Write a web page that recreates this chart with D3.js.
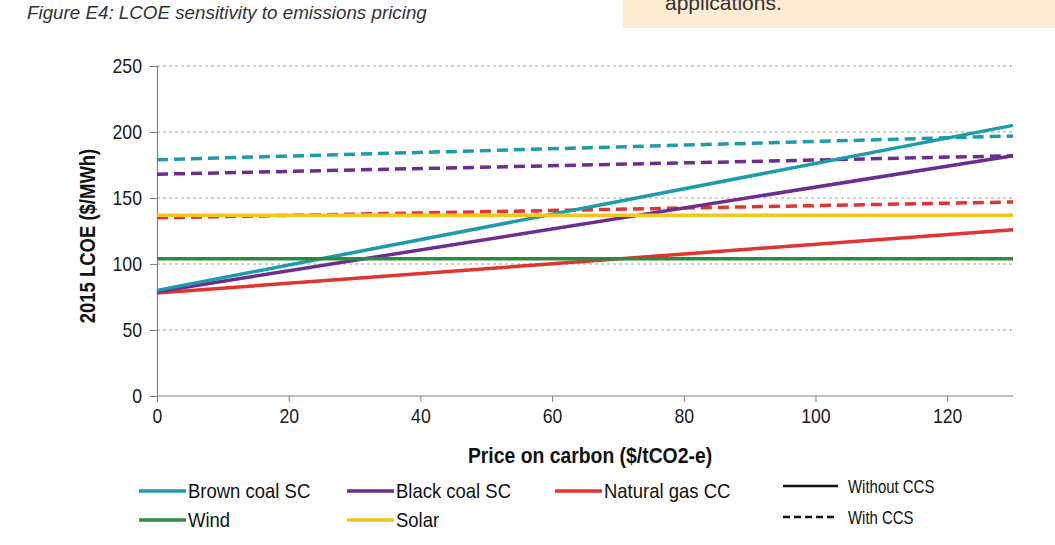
<!DOCTYPE html>
<html><head><meta charset="utf-8">
<script src="https://cdn.jsdelivr.net/npm/d3@7"></script>
<style>
body{margin:0;background:#fff;}
svg{display:block;}
</style></head>
<body>
<svg id="chart" width="1055" height="545"></svg>
<script>
// ---- data ----
const carbonPrices = [0, 130];
const seriesNames = ["Brown coal SC", "Black coal SC", "Natural gas CC", "Wind", "Solar"];
const seriesColors = ["#1c9bab", "#6b2d8f", "#e2332f", "#2b8b3c", "#f6c51c"];
const withoutCCS = [
  [80, 205],   // Brown coal SC
  [79, 182],   // Black coal SC
  [78, 126],   // Natural gas CC
  [104, 104],  // Wind
  [137, 137]   // Solar
];
const withCCS = [
  [179, 197],  // Brown coal SC + CCS
  [168, 182],  // Black coal SC + CCS
  [135, 147]   // Natural gas CC + CCS
];
const xTicks = [0, 20, 40, 60, 80, 100, 120];
const yTicks = [0, 50, 100, 150, 200, 250];
const titleText = "Figure E4: LCOE sensitivity to emissions pricing";
const xLabel = "Price on carbon ($/tCO2-e)";
const yLabel = "2015 LCOE ($/MWh)";

// ---- layout ----
const svg = d3.select("#chart");
const m = {left:157, right:1013, top:66, bottom:396};
const x = d3.scaleLinear().domain([0,130]).range([m.left, m.right]);
const y = d3.scaleLinear().domain([0,250]).range([m.bottom, m.top]);
const sans = "'Liberation Sans',Arial,sans-serif";

function condense(sel, f){
  sel.each(function(){
    const w = this.getComputedTextLength();
    d3.select(this).attr("textLength", w*f).attr("lengthAdjust","spacingAndGlyphs");
  });
}

// top-right peach box
svg.append("rect").attr("x",623).attr("y",0).attr("width",432).attr("height",28).attr("fill","#fdebd2");
svg.append("text").attr("x",665).attr("y",10).attr("font-family",sans)
  .attr("font-size",21).attr("fill","#333").text("applications.");

// title
svg.append("text").attr("x",27).attr("y",19).attr("font-family",sans)
  .attr("font-style","italic").attr("font-size",18.8).attr("fill","#333").text(titleText);

// gridlines
svg.append("g").selectAll("line").data(yTicks.filter(d=>d>0)).join("line")
  .attr("x1",m.left).attr("x2",m.right).attr("y1",d=>y(d)).attr("y2",d=>y(d))
  .attr("stroke","#a0a0a0").attr("stroke-width",1).attr("stroke-dasharray","3,3");

// axes
const yAxis = svg.append("g").attr("transform",`translate(${m.left},0)`)
  .call(d3.axisLeft(y).tickValues(yTicks).tickSize(7).tickPadding(8));
const xAxis = svg.append("g").attr("transform",`translate(0,${m.bottom})`)
  .call(d3.axisBottom(x).tickValues(xTicks).tickSize(6).tickPadding(6));
[yAxis,xAxis].forEach(a=>{
  a.select(".domain").attr("stroke","#808080").attr("stroke-width",1.2);
  a.selectAll(".tick line").attr("stroke","#808080");
  a.selectAll(".tick text").attr("font-family",sans).attr("font-size",21).attr("fill","#1a1a1a");
  condense(a.selectAll(".tick text"), 0.84);
});
xAxis.select(".domain").attr("d",`M${m.left},0H${m.right}`);

// axis labels
const xl = svg.append("text").attr("x",590).attr("y",463).attr("text-anchor","middle")
  .attr("font-family",sans).attr("font-weight","bold").attr("font-size",22).attr("fill","#111").text(xLabel);
condense(xl, 0.88);
const yl = svg.append("text").attr("transform",`translate(95,${(m.top+m.bottom)/2+5}) rotate(-90)`).attr("text-anchor","middle")
  .attr("font-family",sans).attr("font-weight","bold").attr("font-size",22).attr("fill","#111").text(yLabel);
condense(yl, 0.84);

// lines
const line = d3.line().x((d,i)=>x(carbonPrices[i])).y(d=>y(d));
const plot = svg.append("g");
withCCS.forEach((s,i)=>{
  plot.append("path").attr("d",line(s)).attr("fill","none").attr("stroke",seriesColors[i])
    .attr("stroke-width",3.5).attr("stroke-dasharray","11,6");
});
[2,1,0,3,4].forEach(i=>{
  plot.append("path").attr("d",line(withoutCCS[i])).attr("fill","none").attr("stroke",seriesColors[i])
    .attr("stroke-width",3.5);
});

// legend
const legendItems = [
  {i:0, lx:139, ly:491},
  {i:1, lx:347, ly:491},
  {i:2, lx:555, ly:491},
  {i:3, lx:139, ly:520},
  {i:4, lx:347, ly:520}
];
const lg = svg.append("g");
legendItems.forEach(d=>{
  lg.append("line").attr("x1",d.lx).attr("x2",d.lx+47).attr("y1",d.ly).attr("y2",d.ly)
    .attr("stroke",seriesColors[d.i]).attr("stroke-width",3.5);
  const t = lg.append("text").attr("x",d.lx+49).attr("y",d.ly+7).attr("font-family",sans)
    .attr("font-size",21).attr("fill","#111").text(seriesNames[d.i]);
  condense(t, 0.88);
});
lg.append("line").attr("x1",783).attr("x2",838).attr("y1",486).attr("y2",486).attr("stroke","#111").attr("stroke-width",2.5);
const t1 = lg.append("text").attr("x",848).attr("y",493).attr("font-family",sans).attr("font-size",18).attr("fill","#111").text("Without CCS");
condense(t1, 0.83);
lg.append("line").attr("x1",783).attr("x2",838).attr("y1",517).attr("y2",517).attr("stroke","#111").attr("stroke-width",2.5).attr("stroke-dasharray","7,4");
const t2 = lg.append("text").attr("x",848).attr("y",524).attr("font-family",sans).attr("font-size",18).attr("fill","#111").text("With CCS");
condense(t2, 0.83);
</script>
</body></html>
